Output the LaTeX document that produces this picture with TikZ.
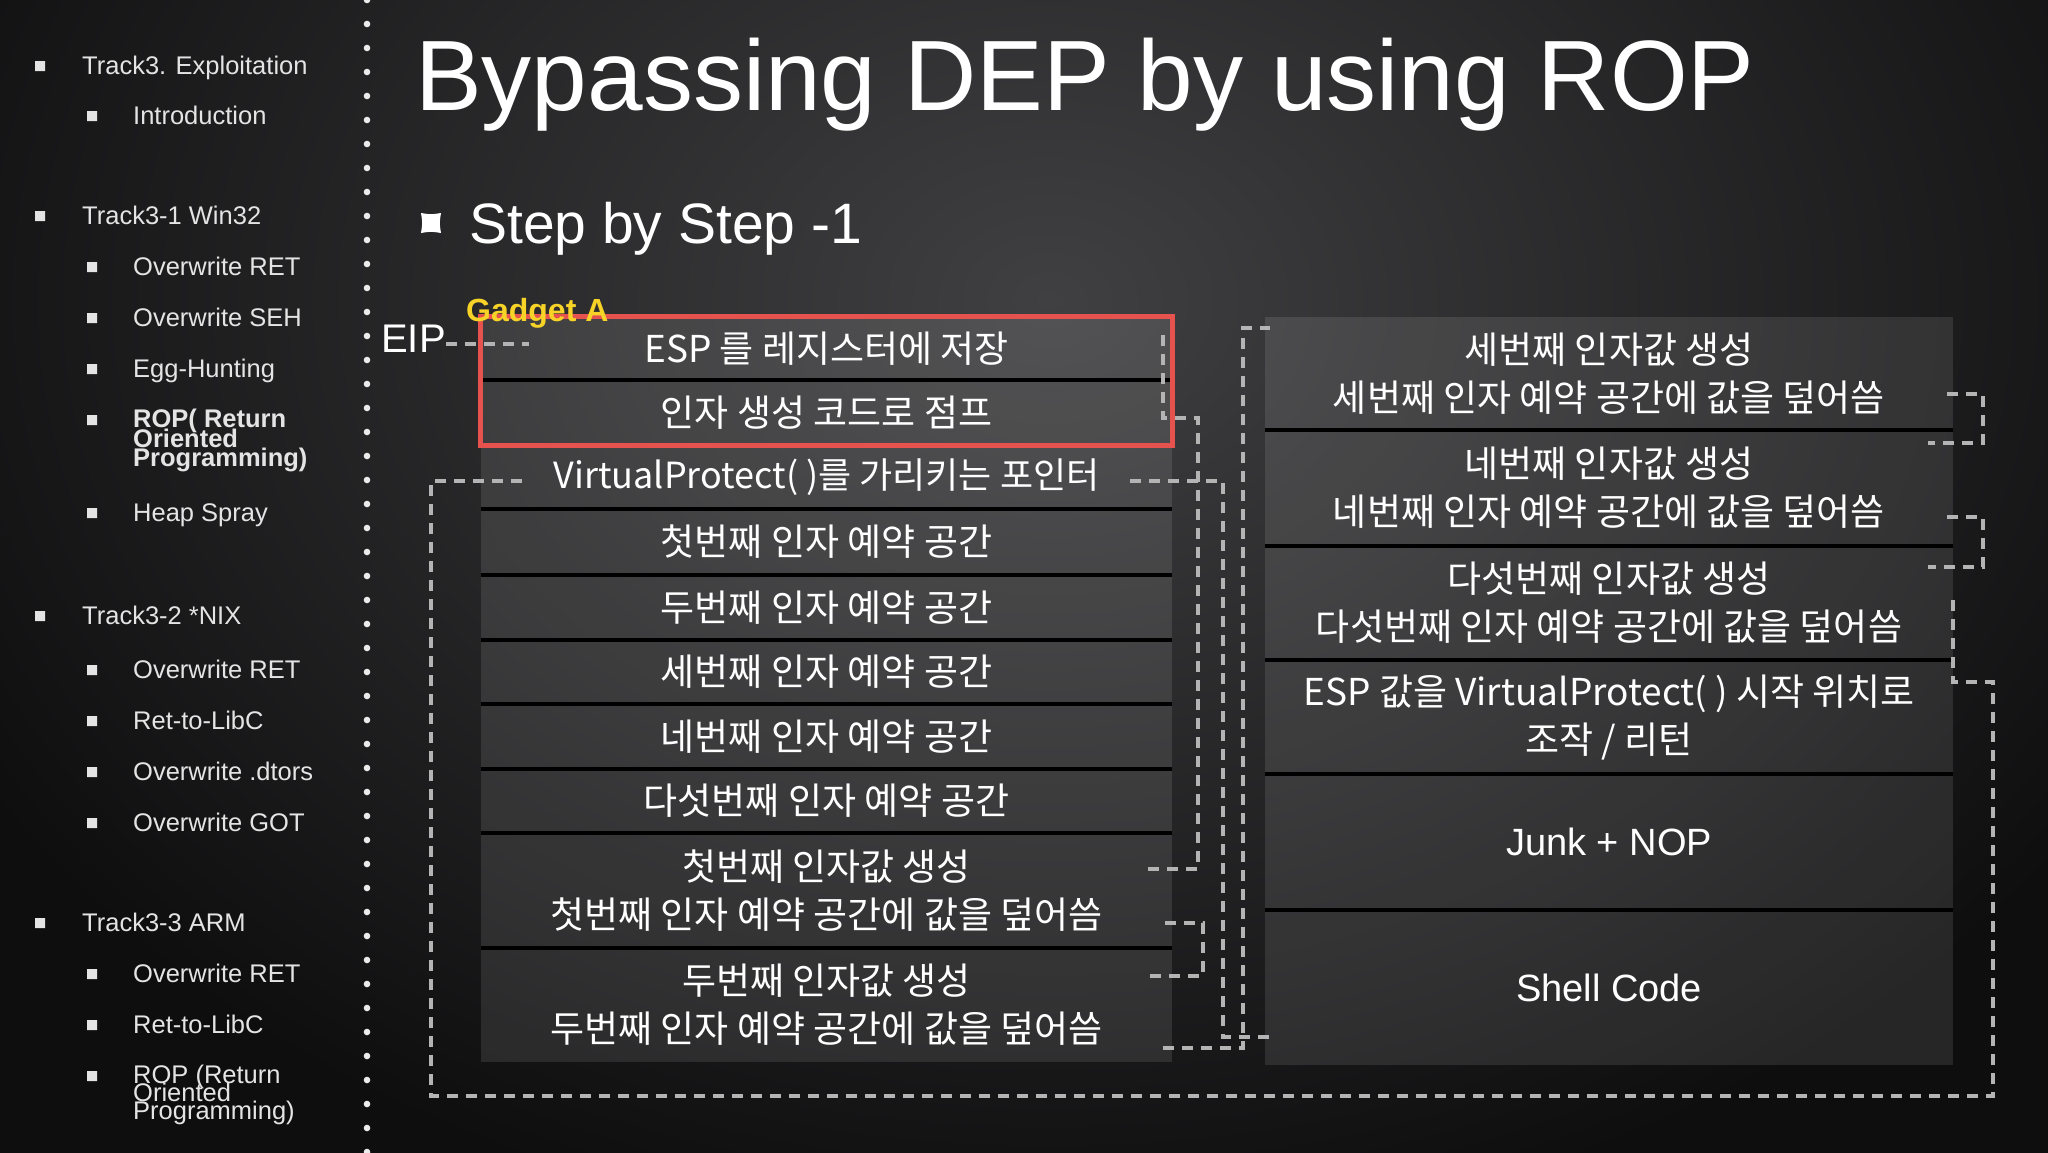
\documentclass[tikz,border=0pt]{standalone}
\usepackage{fontspec}
\setmainfont{Liberation Sans}
\newfontfamily\kr{Noto Sans CJK KR}
\definecolor{bgouter}{RGB}{14,14,15}
\definecolor{bginner}{RGB}{64,64,66}
\definecolor{menugray}{RGB}{228,228,228}
\definecolor{linkgray}{RGB}{180,180,180}
\definecolor{gadgetred}{RGB}{230,82,78}
\definecolor{gadgetyellow}{RGB}{247,211,40}

\begin{document}
\begin{tikzpicture}[x=1pt, y=-1pt,
	cell/.style={fill=white, fill opacity=.1, text opacity=1, text=white,
		inner sep=0pt, align=center, font=\kr\fontsize{37}{48}\selectfont},
	lcell/.style={cell, minimum width=691},
	rcell/.style={cell, minimum width=688},
	sep/.style={draw=black, line width=3.5pt},
	link/.style={draw=linkgray, line width=4pt, dash pattern=on 11pt off 8pt},
	menu/.style={anchor=base west, inner sep=0pt, text=menugray,
		font=\fontsize{25.5}{30}\selectfont},
	bulletmark/.pic={\fill (-1,-1) .. controls (0,-.84) .. (1,-1)
		.. controls (.84,0) .. (1,1) .. controls (0,.84) .. (-1,1)
		.. controls (-.84,0) .. (-1,-1) -- cycle;}]
	\useasboundingbox (0,0) rectangle (2048,1152);
	\fill[bgouter] (-6,-6) rectangle (2054,1158);
	\begin{scope}
		\clip (-6,-6) rectangle (2054,1158);
		\shade[inner color=bginner, outer color=bgouter] (1050,300) ellipse (1250 and 950);
	\end{scope}

	\draw[white!92!black, line width=6.6pt, line cap=round, dash pattern=on 0pt off 24pt]
		(367,0) -- (367,1152);

	\pic[scale=5, color=menugray] at (40,66) {bulletmark};
	\node (t3) at (82,74) [menu] {Track3. Exploitation};
	\pic[scale=5, color=menugray] at (92,116) {bulletmark};
	\node (intro) at (133,124) [menu] {Introduction};
	\pic[scale=5, color=menugray] at (40,216) {bulletmark};
	\node (win) at (82,224) [menu] {Track3-1 Win32};
	\pic[scale=5, color=menugray] at (92,267) {bulletmark};
	\node (winret) at (133,275) [menu] {Overwrite RET};
	\pic[scale=5, color=menugray] at (92,318) {bulletmark};
	\node (winseh) at (133,326) [menu] {Overwrite SEH};
	\pic[scale=5, color=menugray] at (92,369) {bulletmark};
	\node (winegg) at (133,377) [menu] {Egg-Hunting};
	\pic[scale=5, color=menugray] at (92,420) {bulletmark};
	\node (winropa) at (133,427) [menu, font=\bfseries\fontsize{25.5}{30}\selectfont] {ROP( Return};
	\node (winropb) at (133,447) [menu, font=\bfseries\fontsize{25.5}{30}\selectfont] {Oriented};
	\node (winropc) at (133,466) [menu, font=\bfseries\fontsize{25.5}{30}\selectfont] {Programming)};
	\pic[scale=5, color=menugray] at (92,513) {bulletmark};
	\node (winheap) at (133,521) [menu] {Heap Spray};
	\pic[scale=5, color=menugray] at (40,616) {bulletmark};
	\node (nix) at (82,624) [menu] {Track3-2 *NIX};
	\pic[scale=5, color=menugray] at (92,670) {bulletmark};
	\node (nixret) at (133,678) [menu] {Overwrite RET};
	\pic[scale=5, color=menugray] at (92,721) {bulletmark};
	\node (nixlibc) at (133,729) [menu] {Ret-to-LibC};
	\pic[scale=5, color=menugray] at (92,772) {bulletmark};
	\node (nixdtors) at (133,780) [menu] {Overwrite .dtors};
	\pic[scale=5, color=menugray] at (92,823) {bulletmark};
	\node (nixgot) at (133,831) [menu] {Overwrite GOT};
	\pic[scale=5, color=menugray] at (40,923) {bulletmark};
	\node (arm) at (82,931) [menu] {Track3-3 ARM};
	\pic[scale=5, color=menugray] at (92,974) {bulletmark};
	\node (armret) at (133,982) [menu] {Overwrite RET};
	\pic[scale=5, color=menugray] at (92,1025) {bulletmark};
	\node (armlibc) at (133,1033) [menu] {Ret-to-LibC};
	\pic[scale=5, color=menugray] at (92,1076) {bulletmark};
	\node (armropa) at (133,1083) [menu] {ROP (Return};
	\node (armropb) at (133,1101) [menu] {Oriented};
	\node (armropc) at (133,1119) [menu] {Programming)};

	\node (title) at (415,110) [anchor=base west, inner sep=0pt, text=white,
		font=\fontsize{100}{100}\selectfont] {Bypassing DEP by using ROP};
	\pic[scale=10, color=white] at (431,223) {bulletmark};
	\node (steptext) at (469,243) [anchor=base west, inner sep=0pt, text=white,
		font=\fontsize{57}{57}\selectfont] {Step by Step -1};

	\node (L1) at (826.5,348.5) [lcell, minimum height=63] {ESP 를 레지스터에 저장};
	\node (L2) at (826.5,412.5) [lcell, minimum height=65] {인자 생성 코드로 점프};
	\node (L3) at (826.5,477) [lcell, minimum height=64, font=\kr\fontsize{36}{48}\selectfont] {VirtualProtect( )를 가리키는 포인터};
	\node (L4) at (826.5,542) [lcell, minimum height=66] {첫번째 인자 예약 공간};
	\node (L5) at (826.5,607.5) [lcell, minimum height=65] {두번째 인자 예약 공간};
	\node (L6) at (826.5,672) [lcell, minimum height=64] {세번째 인자 예약 공간};
	\node (L7) at (826.5,736.5) [lcell, minimum height=65] {네번째 인자 예약 공간};
	\node (L8) at (826.5,801) [lcell, minimum height=64] {다섯번째 인자 예약 공간};
	\node (L9) at (826.5,890.5) [lcell, minimum height=115] {첫번째 인자값 생성\\첫번째 인자 예약 공간에 값을 덮어씀};
	\node (L10) at (826.5,1005) [lcell, minimum height=114] {두번째 인자값 생성\\두번째 인자 예약 공간에 값을 덮어씀};

	\node (R1) at (1609,373.5) [rcell, minimum height=113] {세번째 인자값 생성\\세번째 인자 예약 공간에 값을 덮어씀};
	\node (R2) at (1609,488) [rcell, minimum height=116] {네번째 인자값 생성\\네번째 인자 예약 공간에 값을 덮어씀};
	\node (R3) at (1609,603) [rcell, minimum height=114] {다섯번째 인자값 생성\\다섯번째 인자 예약 공간에 값을 덮어씀};
	\node (R4) at (1609,717) [rcell, minimum height=114] {ESP 값을 VirtualProtect( ) 시작 위치로\\조작 / 리턴};
	\node (R5) at (1609,842) [rcell, minimum height=136, font=\fontsize{38}{48}\selectfont] {Junk + NOP};
	\node (R6) at (1609,987.5) [rcell, minimum height=155, font=\fontsize{38}{48}\selectfont] {Shell Code};

	\draw[sep] (L1.south west) -- (L1.south east);
	\draw[sep] (L2.south west) -- (L2.south east);
	\draw[sep] (L3.south west) -- (L3.south east);
	\draw[sep] (L4.south west) -- (L4.south east);
	\draw[sep] (L5.south west) -- (L5.south east);
	\draw[sep] (L6.south west) -- (L6.south east);
	\draw[sep] (L7.south west) -- (L7.south east);
	\draw[sep] (L8.south west) -- (L8.south east);
	\draw[sep] (L9.south west) -- (L9.south east);
	\draw[sep] (R1.south west) -- (R1.south east);
	\draw[sep] (R2.south west) -- (R2.south east);
	\draw[sep] (R3.south west) -- (R3.south east);
	\draw[sep] (R4.south west) -- (R4.south east);
	\draw[sep] (R5.south west) -- (R5.south east);

	\draw[gadgetred, line width=5pt] (L1.north west) rectangle (L2.south east);
	\node (gadget) at (466,321) [anchor=base west, inner sep=0pt, text=gadgetyellow,
		font=\bfseries\fontsize{32}{32}\selectfont] {Gadget A};
	\node (eip) at (381,352) [anchor=base west, inner sep=0pt, text=white,
		font=\fontsize{40}{40}\selectfont] {EIP};

	\coordinate (eipin) at (529,344);
	\coordinate (jmpa) at (1163,335);
	\coordinate (jmpb) at (1198,418);
	\coordinate (jmpc) at (1143,869);
	\coordinate (vpa) at (1130,481);
	\coordinate (vpb) at (1223,1037);
	\coordinate (vpc) at (1270,1037);
	\coordinate (reta) at (1953,600);
	\coordinate (retb) at (1993,682);
	\coordinate (retc) at (431,1096);
	\coordinate (retd) at (529,481);
	\coordinate (onea) at (1165,923);
	\coordinate (oneb) at (1203,976);
	\coordinate (onec) at (1150,976);
	\coordinate (twoa) at (1163,1048);
	\coordinate (twob) at (1243,328);
	\coordinate (twoc) at (1270,328);
	\coordinate (threea) at (1947,394);
	\coordinate (threeb) at (1983,443);
	\coordinate (threec) at (1928,443);
	\coordinate (foura) at (1947,517);
	\coordinate (fourb) at (1983,567);
	\coordinate (fourc) at (1928,567);

	\draw[link] (eip.east |- eipin) -- (eipin);
	\draw[link] (jmpa) |- (jmpb) |- (jmpc);
	\draw[link] (vpa) -| (vpb) -- (vpc);
	\draw[link] (reta) |- (retb) |- (retc) |- (retd);
	\draw[link] (onea) -| (oneb) -- (onec);
	\draw[link] (twoa) -| (twob) -- (twoc);
	\draw[link] (threea) -| (threeb) -- (threec);
	\draw[link] (foura) -| (fourb) -- (fourc);
\end{tikzpicture}
\end{document}
